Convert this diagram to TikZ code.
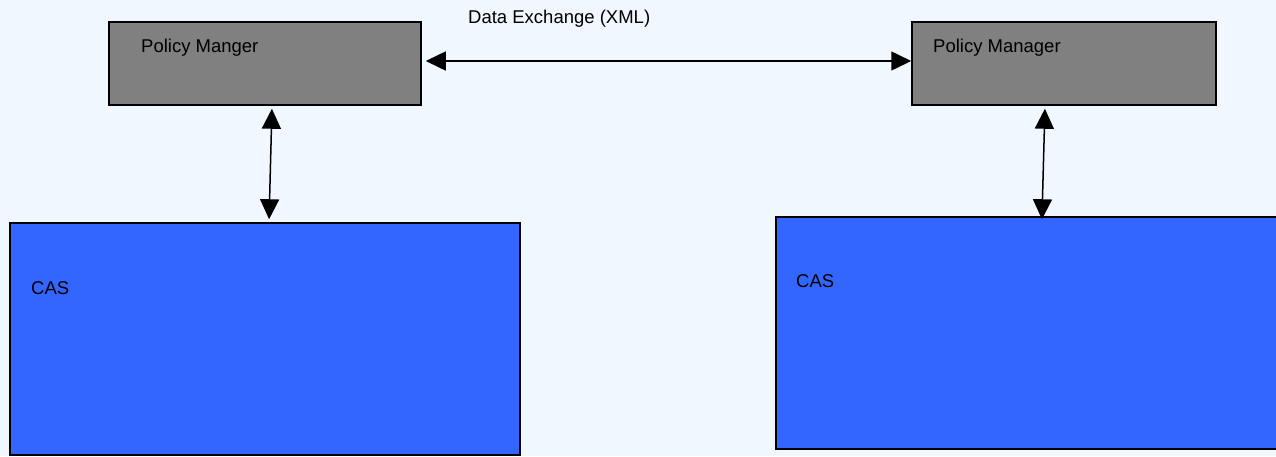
\documentclass[tikz,border=0pt]{standalone}
\usepackage{fontspec}
\setmainfont{Liberation Sans}
\usetikzlibrary{arrows.meta}
\definecolor{bgpale}{HTML}{F0F7FE}
\definecolor{pmgray}{HTML}{808080}
\definecolor{casblue}{HTML}{3366FF}
\tikzset{
  box/.style={draw=black, line width=1.5pt, inner sep=0pt, anchor=center},
  pmbox/.style={box, fill=pmgray, minimum height=83pt},
  casbox/.style={box, fill=casblue, minimum height=232pt},
  lbl/.style={anchor=base west, inner sep=0pt, font=\fontsize{18.5}{22}\selectfont},
  link/.style={line width=1.5pt, {Triangle[length=20pt,width=19pt]}-{Triangle[length=20pt,width=19pt]}}
}
\begin{document}
\begin{tikzpicture}[x=1pt, y=-1pt]
  \useasboundingbox (0,0) rectangle (1276,456);
  \clip (0,0) rectangle (1276,456);
  \fill[bgpale] (0,0) rectangle (1276,456);

  % policy managers
  \node[pmbox, minimum width=312pt] (pmL) at (265,63.5) {};
  \node[pmbox, minimum width=304pt] (pmR) at (1064,63.5) {};
  % CAS blocks
  \node[casbox, minimum width=510pt] (casL) at (265,339) {};
  \node[casbox, minimum width=514pt] (casR) at (1033,333) {};

  % labels
  \node[lbl] (tPmL) at (141,52) {Policy Manger};
  \node[lbl] (tPmR) at (933,52) {Policy Manager};
  \node[lbl] (tXml) at (468,23) {Data Exchange (XML)};
  \node[lbl] (tCasL) at (31,294) {CAS};
  \node[lbl] (tCasR) at (796,287) {CAS};

  % connectors
  \draw[link, shorten <=4pt] ([yshift=2.5pt]pmL.east) -- ([yshift=2.5pt]pmR.west);
  \draw[link, shorten <=3pt, shorten >=3pt] ([xshift=7pt]pmL.south) -- ([xshift=4pt]casL.north);
  \draw[link, shorten <=3pt, shorten >=-3pt] ([xshift=-19pt]pmR.south) -- ([xshift=9pt]casR.north);
\end{tikzpicture}
\end{document}
